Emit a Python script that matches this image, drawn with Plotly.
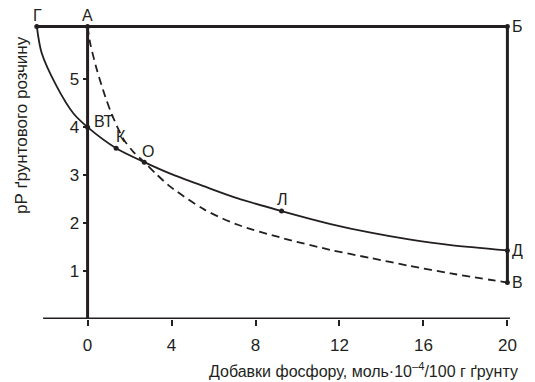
import plotly.graph_objects as go

# ---- data ----
solid_x = [-2.42, -2.19, -1.47, -0.68, 0.0, 1.36, 2.70, 3.94, 5.53, 7.12, 9.24, 11.58, 13.49, 15.31, 17.3, 20.0]
solid_y = [6.1, 5.55, 4.85, 4.29, 4.0, 3.56, 3.27, 3.03, 2.77, 2.52, 2.25, 1.98, 1.80, 1.66, 1.54, 1.43]

dash_x = [0.0, 0.12, 0.44, 0.84, 1.16, 1.71, 2.19, 2.70, 3.30, 3.94, 5.53, 7.12, 9.35, 11.58, 13.49, 15.31, 17.3, 20.0]
dash_y = [6.1, 5.76, 5.2, 4.64, 4.26, 3.75, 3.48, 3.27, 3.01, 2.76, 2.29, 1.97, 1.68, 1.44, 1.27, 1.11, 0.95, 0.76]

# labelled points
pt_names = ["Г", "А", "Б", "ВТ", "К", "О", "Л", "Д", "В"]
pt_x = [-2.42, 0.0, 20.0, 0.0, 1.36, 2.70, 9.24, 20.0, 20.0]
pt_y = [6.1, 6.1, 6.1, 4.0, 3.56, 3.27, 2.25, 1.43, 0.76]

x_ticks = [0, 4, 8, 12, 16, 20]
y_ticks = [1, 2, 3, 4, 5]

x_axis_span = [-2.12, 20.12]
x_range = [-2.6, 20.6]
y_range = [0, 6.4]

x_title = "Добавки фосфору, моль·10<sup>–4</sup>/100 г ґрунту"
y_title = "рР ґрунтового розчину"

FONT = "Liberation Sans, Arial, sans-serif"
INK = "#231f20"

P = dict(zip(pt_names, zip(pt_x, pt_y)))

fig = go.Figure()

# frame lines: Г–Б top line, А vertical (y axis at 0), Б–В vertical, bottom axis
fig.add_trace(go.Scatter(x=[P["Г"][0], P["Б"][0]], y=[P["Г"][1], P["Б"][1]],
                         mode="lines", line=dict(color=INK, width=3), hoverinfo="skip"))
fig.add_trace(go.Scatter(x=[P["А"][0], P["А"][0]], y=[P["А"][1], 0],
                         mode="lines", line=dict(color=INK, width=3), hoverinfo="skip"))
fig.add_trace(go.Scatter(x=[P["Б"][0], P["В"][0]], y=[P["Б"][1], P["В"][1]],
                         mode="lines", line=dict(color=INK, width=3), hoverinfo="skip"))
fig.add_trace(go.Scatter(x=x_axis_span, y=[0, 0],
                         mode="lines", line=dict(color=INK, width=3), hoverinfo="skip"))

# curves
fig.add_trace(go.Scatter(x=solid_x, y=solid_y, mode="lines",
                         line=dict(color=INK, width=1.8, shape="spline", smoothing=0.8)))
fig.add_trace(go.Scatter(x=dash_x, y=dash_y, mode="lines",
                         line=dict(color=INK, width=1.8, dash="8px,5px", shape="spline", smoothing=0.8)))

# points
fig.add_trace(go.Scatter(x=pt_x, y=pt_y, mode="markers",
                         marker=dict(color=INK, size=5), cliponaxis=False))

# point labels: (xanchor, yanchor, xshift, yshift)
label_pos = {
    "Г": ("center", "bottom", 1, 0),
    "А": ("center", "bottom", 0, 0),
    "Б": ("left", "middle", 3, 0),
    "ВТ": ("left", "middle", 4, 6),
    "К": ("center", "middle", 5, 12),
    "О": ("center", "middle", 4, 11),
    "Л": ("center", "middle", 1, 12),
    "Д": ("left", "middle", 3, 0),
    "В": ("left", "middle", 3, 0),
}
for name, x, y in zip(pt_names, pt_x, pt_y):
    xa, ya, xs, ys = label_pos[name]
    fig.add_annotation(x=x, y=y, xref="x", yref="y", text=name, showarrow=False,
                       xanchor=xa, yanchor=ya, xshift=xs, yshift=ys,
                       font=dict(family=FONT, size=16, color=INK))

# axis titles
fig.add_annotation(x=1, y=0, xref="paper", yref="paper", text=x_title, showarrow=False,
                   xanchor="right", yanchor="middle", yshift=-51,
                   font=dict(family=FONT, size=16, color=INK))
fig.add_annotation(x=0, y=0.632, xref="paper", yref="paper", text=y_title, showarrow=False,
                   textangle=-90, xanchor="center", yanchor="middle", xshift=-11,
                   font=dict(family=FONT, size=17, color=INK))

y_axis_pos = (0 - x_range[0]) / (x_range[1] - x_range[0])

# the page body adds an 8px margin, so the figure is sized to fit the 535x382 window
fig.update_layout(
    width=527, height=374,
    margin=dict(l=25, r=15, t=4, b=63),
    paper_bgcolor="white", plot_bgcolor="white",
    showlegend=False,
    font=dict(family=FONT, size=16, color=INK),
    xaxis=dict(range=x_range, tickvals=x_ticks, ticks="outside", ticklen=6, tickwidth=1.5,
               tickcolor=INK, showgrid=False, zeroline=False, showline=False,
               ticklabelstandoff=5,
               tickfont=dict(family=FONT, size=17, color=INK)),
    yaxis=dict(range=y_range, tickvals=y_ticks, ticks="outside", ticklen=5, tickwidth=1.5,
               tickcolor=INK, showgrid=False, zeroline=False, showline=False,
               anchor="free", position=y_axis_pos,
               tickfont=dict(family=FONT, size=17, color=INK)),
)

fig.write_html("out.html")
